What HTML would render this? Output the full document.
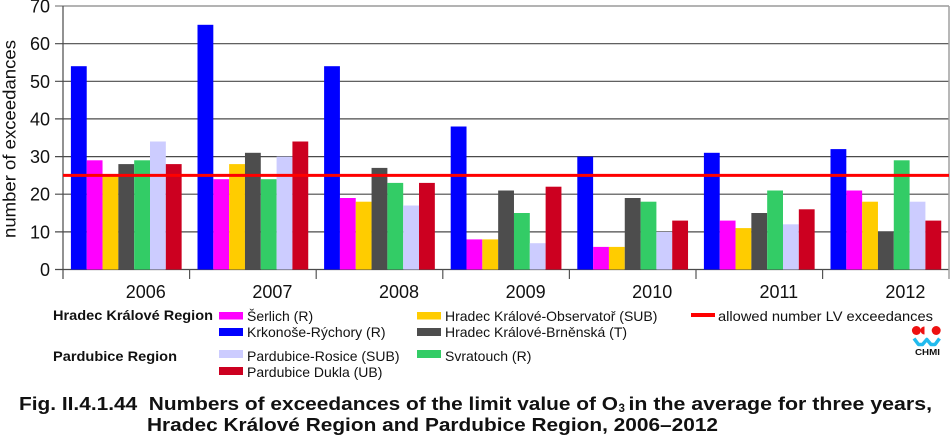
<!DOCTYPE html>
<html><head><meta charset="utf-8"><style>
html,body{margin:0;padding:0;background:#fff;}
svg{display:block;}
text{font-family:"Liberation Sans",Arial,sans-serif;white-space:pre;}
</style></head><body>
<svg width="950" height="439" viewBox="0 0 950 439" xmlns="http://www.w3.org/2000/svg">
<rect width="950" height="439" fill="#fff"/>
<!-- gridlines -->
<g stroke="#4a4a4a" stroke-width="1.2">
<line x1="55" y1="231.9" x2="949" y2="231.9"/>
<line x1="55" y1="194.2" x2="949" y2="194.2"/>
<line x1="55" y1="156.6" x2="949" y2="156.6"/>
<line x1="55" y1="118.9" x2="949" y2="118.9"/>
<line x1="55" y1="81.3" x2="949" y2="81.3"/>
<line x1="55" y1="43.7" x2="949" y2="43.7"/>
<line x1="55" y1="269.5" x2="949" y2="269.5"/>
</g>
<line x1="55" y1="6" x2="949" y2="6" stroke="#9a9a9a" stroke-width="1.5"/>
<line x1="949" y1="6" x2="949" y2="279" stroke="#a0a0a0" stroke-width="1.5"/>
<line x1="63" y1="6" x2="63" y2="279" stroke="#4a4a4a" stroke-width="1.2"/>
<!-- category ticks -->
<g stroke="#555" stroke-width="1.2">
<line x1="189.6" y1="269.5" x2="189.6" y2="279"/>
<line x1="316.2" y1="269.5" x2="316.2" y2="279"/>
<line x1="442.8" y1="269.5" x2="442.8" y2="279"/>
<line x1="569.4" y1="269.5" x2="569.4" y2="279"/>
<line x1="696" y1="269.5" x2="696" y2="279"/>
<line x1="822.6" y1="269.5" x2="822.6" y2="279"/>
</g>
<!-- bars -->
<g transform="translate(70.9,0)">
<rect x="0" y="66.2" width="15.82" height="203.3" fill="#0000ff"/>
<rect x="15.82" y="160.3" width="15.82" height="109.2" fill="#ff00ff"/>
<rect x="31.64" y="175.4" width="15.82" height="94.1" fill="#ffcc00"/>
<rect x="47.46" y="164.1" width="15.82" height="105.4" fill="#4d4d4d"/>
<rect x="63.28" y="160.3" width="15.82" height="109.2" fill="#33cc66"/>
<rect x="79.10" y="141.5" width="15.82" height="128" fill="#ccccff"/>
<rect x="94.92" y="164.1" width="15.82" height="105.4" fill="#cc0020"/>
</g>
<g transform="translate(197.5,0)">
<rect x="0" y="24.8" width="15.82" height="244.7" fill="#0000ff"/>
<rect x="15.82" y="179.2" width="15.82" height="90.3" fill="#ff00ff"/>
<rect x="31.64" y="164.1" width="15.82" height="105.4" fill="#ffcc00"/>
<rect x="47.46" y="152.8" width="15.82" height="116.7" fill="#4d4d4d"/>
<rect x="63.28" y="179.2" width="15.82" height="90.3" fill="#33cc66"/>
<rect x="79.10" y="156.6" width="15.82" height="112.9" fill="#ccccff"/>
<rect x="94.92" y="141.5" width="15.82" height="128" fill="#cc0020"/>
</g>
<g transform="translate(324.1,0)">
<rect x="0" y="66.2" width="15.82" height="203.3" fill="#0000ff"/>
<rect x="15.82" y="198.0" width="15.82" height="71.5" fill="#ff00ff"/>
<rect x="31.64" y="201.7" width="15.82" height="67.8" fill="#ffcc00"/>
<rect x="47.46" y="167.9" width="15.82" height="101.6" fill="#4d4d4d"/>
<rect x="63.28" y="182.9" width="15.82" height="86.6" fill="#33cc66"/>
<rect x="79.10" y="205.5" width="15.82" height="64" fill="#ccccff"/>
<rect x="94.92" y="182.9" width="15.82" height="86.6" fill="#cc0020"/>
</g>
<g transform="translate(450.7,0)">
<rect x="0" y="126.5" width="15.82" height="143" fill="#0000ff"/>
<rect x="15.82" y="239.4" width="15.82" height="30.1" fill="#ff00ff"/>
<rect x="31.64" y="239.4" width="15.82" height="30.1" fill="#ffcc00"/>
<rect x="47.46" y="190.5" width="15.82" height="79" fill="#4d4d4d"/>
<rect x="63.28" y="213.0" width="15.82" height="56.5" fill="#33cc66"/>
<rect x="79.10" y="243.2" width="15.82" height="26.3" fill="#ccccff"/>
<rect x="94.92" y="186.7" width="15.82" height="82.8" fill="#cc0020"/>
</g>
<g transform="translate(577.3,0)">
<rect x="0" y="156.6" width="15.82" height="112.9" fill="#0000ff"/>
<rect x="15.82" y="246.9" width="15.82" height="22.6" fill="#ff00ff"/>
<rect x="31.64" y="246.9" width="15.82" height="22.6" fill="#ffcc00"/>
<rect x="47.46" y="198.0" width="15.82" height="71.5" fill="#4d4d4d"/>
<rect x="63.28" y="201.7" width="15.82" height="67.8" fill="#33cc66"/>
<rect x="79.10" y="231.9" width="15.82" height="37.6" fill="#ccccff"/>
<rect x="94.92" y="220.6" width="15.82" height="48.9" fill="#cc0020"/>
</g>
<g transform="translate(703.9,0)">
<rect x="0" y="152.8" width="15.82" height="116.7" fill="#0000ff"/>
<rect x="15.82" y="220.6" width="15.82" height="48.9" fill="#ff00ff"/>
<rect x="31.64" y="228.1" width="15.82" height="41.4" fill="#ffcc00"/>
<rect x="47.46" y="213.0" width="15.82" height="56.5" fill="#4d4d4d"/>
<rect x="63.28" y="190.5" width="15.82" height="79" fill="#33cc66"/>
<rect x="79.10" y="224.3" width="15.82" height="45.2" fill="#ccccff"/>
<rect x="94.92" y="209.3" width="15.82" height="60.2" fill="#cc0020"/>
</g>
<g transform="translate(830.5,0)">
<rect x="0" y="149.1" width="15.82" height="120.4" fill="#0000ff"/>
<rect x="15.82" y="190.5" width="15.82" height="79" fill="#ff00ff"/>
<rect x="31.64" y="201.7" width="15.82" height="67.8" fill="#ffcc00"/>
<rect x="47.46" y="231.9" width="15.82" height="37.6" fill="#4d4d4d"/>
<rect x="63.28" y="160.3" width="15.82" height="109.2" fill="#33cc66"/>
<rect x="79.10" y="201.7" width="15.82" height="67.8" fill="#ccccff"/>
<rect x="94.92" y="220.6" width="15.82" height="48.9" fill="#cc0020"/>
</g>
<!-- limit line -->
<line x1="63" y1="175.4" x2="949" y2="175.4" stroke="#ff0000" stroke-width="3"/>
<!-- y tick labels -->
<g font-size="18" text-anchor="end" fill="#111">
<text x="50" y="12.5">70</text>
<text x="50" y="50.2">60</text>
<text x="50" y="87.8">50</text>
<text x="50" y="125.4">40</text>
<text x="50" y="163.1">30</text>
<text x="50" y="200.7">20</text>
<text x="50" y="238.4">10</text>
<text x="50" y="276">0</text>
</g>
<text transform="translate(15.5,139) rotate(-90)" font-size="17.5" text-anchor="middle" textLength="198" lengthAdjust="spacingAndGlyphs" fill="#111">number of exceedances</text>
<!-- x labels -->
<g font-size="18" text-anchor="middle" fill="#111">
<text x="145.8" y="298">2006</text>
<text x="272.4" y="298">2007</text>
<text x="399" y="298">2008</text>
<text x="525.6" y="298">2009</text>
<text x="652.2" y="298">2010</text>
<text x="778.8" y="298">2011</text>
<text x="905.4" y="298">2012</text>
</g>
<!-- legend -->
<g font-size="14" fill="#111">
<text x="53" y="320" font-weight="bold" textLength="160" lengthAdjust="spacingAndGlyphs">Hradec Králové Region</text>
<text x="53" y="361" font-weight="bold" textLength="124" lengthAdjust="spacingAndGlyphs">Pardubice Region</text>
<rect x="219" y="312" width="24" height="7.5" fill="#ff00ff"/>
<text x="247" y="321">Šerlich (R)</text>
<rect x="219" y="328" width="24" height="8" fill="#0000ff"/>
<text x="247" y="337">Krkonoše-Rýchory (R)</text>
<rect x="219" y="350" width="24" height="8" fill="#ccccff"/>
<text x="247" y="361">Pardubice-Rosice (SUB)</text>
<rect x="219" y="367" width="24" height="8" fill="#cc0020"/>
<text x="247" y="377">Pardubice Dukla (UB)</text>
<rect x="417" y="312" width="24" height="7.5" fill="#ffcc00"/>
<text x="445" y="321">Hradec Králové-Observatoř (SUB)</text>
<rect x="417" y="328" width="24" height="8" fill="#4d4d4d"/>
<text x="445" y="337">Hradec Králové-Brněnská (T)</text>
<rect x="417" y="350" width="24" height="8" fill="#33cc66"/>
<text x="445" y="361">Svratouch (R)</text>
<rect x="691" y="313" width="24" height="4" fill="#ff0000"/>
<text x="718" y="321" textLength="215" lengthAdjust="spacingAndGlyphs">allowed number LV exceedances</text>
</g>
<!-- CHMI logo -->
<g>
<circle cx="916.4" cy="330.5" r="4.5" fill="#ee1111"/>
<path d="M924.5 326.5 A4 4 0 0 0 924.5 334.5 Z" fill="#ee1111"/>
<circle cx="936.2" cy="330.5" r="4.5" fill="#ee1111"/>
<path d="M914 338.5 L918.5 344.5 L922.5 344.5 L926.8 339.5 L931 344.5 L935 344.5 L939.5 338.5" fill="none" stroke="#22bbee" stroke-width="3.5" stroke-linejoin="round"/>
<text x="915" y="355" font-size="8.5" font-weight="bold" textLength="25" lengthAdjust="spacingAndGlyphs" fill="#111">CHMI</text>
</g>
<!-- caption -->
<g font-weight="bold" fill="#111">
<text x="19" y="410" font-size="18.5" textLength="599" lengthAdjust="spacingAndGlyphs">Fig. II.4.1.44  Numbers of exceedances of the limit value of O</text>
<text x="618.5" y="412" font-size="11.5">3</text>
<text x="628.5" y="410" font-size="18.5" textLength="303.5" lengthAdjust="spacingAndGlyphs">in the average for three years,</text>
<text x="147" y="431" font-size="18.5" textLength="571" lengthAdjust="spacingAndGlyphs">Hradec Králové Region and Pardubice Region, 2006–2012</text>
</g>
</svg>
</body></html>
